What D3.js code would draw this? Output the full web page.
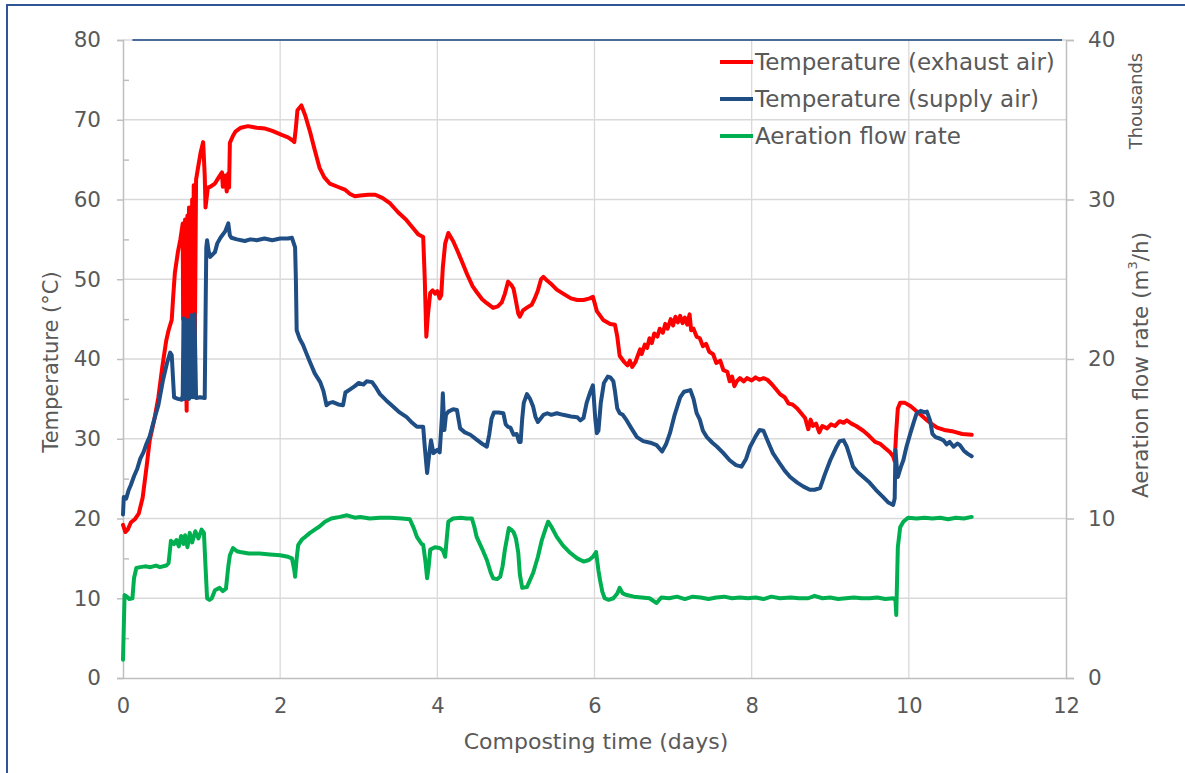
<!DOCTYPE html>
<html><head><meta charset="utf-8">
<script src="https://cdn.jsdelivr.net/npm/d3@7"></script>
<style>
html,body{margin:0;padding:0;background:#fff;}
svg{display:block;}
text{font-family:"DejaVu Sans",Verdana,sans-serif;fill:#595959;}
</style></head>
<body><svg id="c" width="1185" height="773"></svg>
<script>
// ---- data (day, value) ----
const xTicks = [0, 2, 4, 6, 8, 10, 12];
const leftTicks = [0, 10, 20, 30, 40, 50, 60, 70, 80];
const leftMinorTicks = [5, 15, 25, 35, 45, 55, 65, 75];
const rightTicks = [0, 10000, 20000, 30000, 40000];
const seriesNames = ["Temperature (exhaust air)", "Temperature (supply air)", "Aeration flow rate"];
const topLine = [[0.12, 80], [11.95, 80]];

const exhaustAir = [[0.00,19.2],[0.03,18.3],[0.06,18.6],[0.10,19.5],[0.15,19.9],[0.20,20.6],[0.25,22.6],[0.30,26.5],[0.34,29.8],[0.40,32.5],[0.45,35.2],[0.50,39],[0.55,42.3],[0.58,43.6],[0.62,44.9],[0.64,48],[0.66,50.8],[0.70,53.5],[0.73,55],[0.76,57],
[0.765,45],[0.77,56],[0.78,35],[0.79,57.5],[0.80,40],[0.81,33.5],[0.82,58],[0.83,36],[0.84,59],[0.85,38],[0.86,52],[0.87,36],[0.88,60],[0.89,38],[0.90,61.8],[0.91,37],[0.93,62.5],[0.955,64],[0.99,66],[1.02,67.2],[1.04,63],[1.05,59],[1.08,61.5],[1.11,61.6],[1.17,62],[1.22,62.8],[1.26,63.4],[1.27,61.6],[1.30,63],[1.32,61],[1.34,63.3],[1.35,61.5],[1.36,67.1],[1.40,68],[1.43,68.5],[1.50,69],[1.59,69.2],[1.70,69],[1.81,68.9],[1.90,68.6],[2.02,68.1],[2.10,67.8],[2.16,67.4],[2.18,67.2],[2.20,69],[2.22,71.2],[2.27,71.8],[2.32,70.5],[2.38,68.5],[2.44,66.2],[2.50,64],[2.56,62.8],[2.63,62],[2.73,61.6],[2.83,61.2],[2.89,60.7],[2.95,60.4],[3.02,60.5],[3.12,60.6],[3.21,60.6],[3.30,60.2],[3.40,59.5],[3.50,58.4],[3.60,57.5],[3.70,56.3],[3.76,55.6],[3.82,55.3],[3.84,50],[3.86,42.8],[3.88,45.5],[3.91,48.3],[3.94,48.6],[3.97,48.2],[4.00,48.5],[4.03,47.6],[4.05,48],[4.07,51.5],[4.10,54.5],[4.14,55.8],[4.20,54.8],[4.25,53.7],[4.31,52.3],[4.38,50.6],[4.45,49.1],[4.50,48.4],[4.57,47.5],[4.63,47],[4.71,46.4],[4.77,46.6],[4.82,47.1],[4.86,48.2],[4.90,49.7],[4.94,49.3],[4.97,48.8],[5.00,47.3],[5.03,45.7],[5.05,45.3],[5.09,46.1],[5.15,46.5],[5.20,46.8],[5.24,47.6],[5.28,48.6],[5.32,50],[5.35,50.3],[5.40,49.8],[5.46,49.3],[5.52,48.7],[5.60,48.2],[5.70,47.6],[5.78,47.4],[5.86,47.4],[5.94,47.6],[5.98,47.8],[6.03,46],[6.11,44.9],[6.20,44.4],[6.26,44.3],[6.29,42.8],[6.32,40.4],[6.38,39.6],[6.42,39.2],[6.45,39.8],[6.48,39],[6.52,39.6],[6.55,40.4],[6.58,41.2],[6.60,40.6],[6.64,41.8],[6.67,41.4],[6.70,42.6],[6.73,42],[6.76,43.2],[6.80,42.8],[6.83,43.8],[6.87,43.3],[6.90,44.4],[6.93,43.8],[6.97,45],[7.00,44.2],[7.03,45.3],[7.06,44.6],[7.09,45.4],[7.12,44.5],[7.15,45.2],[7.18,44.3],[7.21,45.6],[7.23,43.6],[7.26,43.8],[7.30,42.8],[7.34,42.6],[7.38,41.6],[7.42,41.9],[7.46,40.9],[7.51,40.6],[7.55,39.5],[7.60,39.8],[7.64,38.6],[7.69,38.4],[7.72,37.2],[7.75,37.8],[7.78,36.6],[7.81,37.2],[7.85,37.6],[7.90,37.2],[7.94,37.6],[8.00,37.3],[8.05,37.7],[8.10,37.4],[8.15,37.6],[8.20,37.4],[8.26,36.8],[8.31,36.2],[8.36,35.6],[8.42,35.2],[8.47,34.4],[8.52,34.3],[8.58,33.8],[8.63,33.2],[8.68,32.6],[8.72,31.2],[8.75,32.4],[8.78,31.6],[8.82,31.9],[8.86,30.8],[8.90,31.6],[8.96,31.3],[9.01,31.8],[9.06,31.6],[9.12,32.2],[9.17,32],[9.21,32.3],[9.27,31.9],[9.33,31.6],[9.42,31],[9.50,30.3],[9.57,29.6],[9.63,29.4],[9.70,28.8],[9.76,28.3],[9.80,27.8],[9.82,27.2],[9.84,31],[9.86,33.8],[9.89,34.5],[9.95,34.5],[10.02,34.1],[10.08,33.6],[10.14,33.1],[10.22,32.4],[10.30,31.8],[10.36,31.4],[10.45,31.1],[10.57,30.9],[10.68,30.6],[10.80,30.5]];

const supplyAir = [[0.00,20.5],[0.01,22.7],[0.04,22.5],[0.07,23.5],[0.10,24.2],[0.14,25.3],[0.18,26.2],[0.22,27.5],[0.26,28.3],[0.30,29.4],[0.34,30.3],[0.40,32.5],[0.45,34.2],[0.51,37.4],[0.56,39.5],[0.60,40.8],[0.62,40.5],[0.65,35.2],[0.70,35],[0.75,34.9],[0.76,35.5],[0.77,45.1],[0.79,35],[0.81,35.2],[0.82,44.9],[0.84,35],[0.86,35.3],[0.87,45.5],[0.89,35.2],[0.91,45.6],[0.93,35.1],[0.98,35.2],[1.04,35.1],[1.05,45],[1.06,54],[1.07,54.9],[1.09,53.5],[1.11,52.8],[1.17,53.4],[1.20,54.5],[1.24,55.2],[1.30,56],[1.34,57],[1.36,55.5],[1.38,55.2],[1.45,55],[1.55,54.8],[1.62,55],[1.70,54.9],[1.80,55.1],[1.90,54.9],[2.00,55.1],[2.10,55.1],[2.15,55.2],[2.19,54],[2.20,50],[2.21,43.6],[2.25,42.5],[2.29,41.8],[2.33,40.8],[2.38,39.6],[2.44,38.2],[2.51,37.1],[2.55,36],[2.59,34.2],[2.63,34.5],[2.67,34.6],[2.74,34.3],[2.80,34.2],[2.83,35.8],[2.89,36.2],[2.95,36.6],[3.00,37],[3.06,36.8],[3.10,37.2],[3.17,37.1],[3.22,36.4],[3.27,35.6],[3.35,34.8],[3.44,34],[3.52,33.3],[3.61,32.7],[3.68,32],[3.74,31.5],[3.82,31.5],[3.84,29],[3.87,25.7],[3.89,27.5],[3.92,29.8],[3.95,28.2],[4.00,28.6],[4.03,28.3],[4.06,33],[4.07,35.7],[4.09,31.1],[4.11,33],[4.14,33.4],[4.20,33.7],[4.25,33.6],[4.29,31.3],[4.35,30.8],[4.42,30.5],[4.50,29.9],[4.58,29.3],[4.63,29],[4.66,30.5],[4.69,32.5],[4.72,33.3],[4.78,33.3],[4.84,33.2],[4.87,31.8],[4.90,31.5],[4.93,31.4],[4.97,30.5],[5.01,30.6],[5.04,29.6],[5.06,29.6],[5.08,32.5],[5.10,34.5],[5.14,35.6],[5.18,35],[5.22,34],[5.25,32.7],[5.28,32.1],[5.32,32.6],[5.35,33],[5.40,33.2],[5.45,33],[5.52,33.2],[5.60,33],[5.70,32.8],[5.78,32.7],[5.82,32.3],[5.86,32.6],[5.90,34.5],[5.94,35.7],[5.98,36.7],[6.01,32.5],[6.03,30.7],[6.05,31],[6.08,34.5],[6.12,37],[6.17,37.8],[6.20,37.7],[6.24,37.2],[6.26,36],[6.29,33.8],[6.32,33.2],[6.36,33],[6.41,32.3],[6.47,31.3],[6.54,30.2],[6.62,29.7],[6.71,29.5],[6.79,29.2],[6.86,28.4],[6.91,29.3],[6.96,30.7],[7.02,33],[7.09,35.2],[7.14,35.9],[7.22,36.1],[7.26,35],[7.30,33.2],[7.34,32.4],[7.38,31],[7.43,30.2],[7.50,29.5],[7.56,29],[7.64,28.2],[7.72,27.3],[7.80,26.7],[7.87,26.5],[7.93,27.5],[7.98,29],[8.05,30.3],[8.10,31.1],[8.15,31],[8.20,29.8],[8.27,28.2],[8.35,27],[8.42,26],[8.49,25.2],[8.58,24.5],[8.66,24],[8.74,23.6],[8.80,23.6],[8.87,23.8],[8.93,25.5],[9.00,27.3],[9.07,28.8],[9.12,29.7],[9.17,29.8],[9.21,29],[9.25,27.8],[9.29,26.5],[9.35,25.8],[9.42,25.2],[9.50,24.5],[9.58,23.6],[9.67,22.7],[9.74,22],[9.80,21.7],[9.82,22.5],[9.83,28.6],[9.85,26],[9.86,25.2],[9.90,26.5],[9.93,27.3],[9.97,29],[10.02,30.7],[10.06,32],[10.10,33.2],[10.15,33.5],[10.20,33.3],[10.23,33.4],[10.27,32.3],[10.30,30.6],[10.34,30.2],[10.40,30],[10.44,29.8],[10.48,29.3],[10.52,29.6],[10.57,29],[10.62,29.4],[10.65,29.2],[10.70,28.5],[10.75,28.1],[10.80,27.8]];

// aeration flow rate in m3/h
const aerationFlow = [[0.00,1150],[0.02,5200],[0.05,5100],[0.08,4950],[0.12,5000],[0.14,6250],[0.17,6900],[0.22,6950],[0.28,7000],[0.35,6950],[0.42,7050],[0.47,6950],[0.55,7050],[0.58,7200],[0.61,8600],[0.65,8400],[0.68,8650],[0.71,8250],[0.74,8900],[0.77,8400],[0.79,8950],[0.82,8200],[0.85,9100],[0.88,8500],[0.92,9200],[0.96,8750],[1.00,9300],[1.03,9100],[1.05,7000],[1.07,5000],[1.10,4900],[1.13,5000],[1.17,5500],[1.23,5650],[1.27,5450],[1.31,5600],[1.34,7000],[1.36,7700],[1.40,8150],[1.45,7950],[1.49,7900],[1.60,7800],[1.74,7800],[1.87,7750],[2.00,7700],[2.10,7600],[2.15,7500],[2.18,6750],[2.19,6350],[2.21,7500],[2.23,8350],[2.28,8700],[2.32,8850],[2.38,9100],[2.44,9300],[2.50,9500],[2.57,9800],[2.65,10000],[2.76,10100],[2.85,10200],[2.95,10050],[3.02,10100],[3.14,10000],[3.27,10050],[3.40,10050],[3.55,10000],[3.65,9950],[3.70,9400],[3.74,8850],[3.80,8400],[3.82,8350],[3.85,7250],[3.87,6250],[3.89,7000],[3.91,8050],[3.97,8200],[4.03,8150],[4.07,8000],[4.10,7600],[4.12,8750],[4.14,9800],[4.20,10000],[4.30,10050],[4.37,10000],[4.44,10000],[4.47,9500],[4.50,8850],[4.57,8100],[4.63,7400],[4.68,6600],[4.71,6250],[4.76,6200],[4.80,6350],[4.83,7000],[4.86,8050],[4.91,9400],[4.94,9300],[4.97,9150],[5.00,8750],[5.03,7850],[5.05,6500],[5.08,5650],[5.14,5700],[5.22,6600],[5.28,7600],[5.33,8650],[5.38,9400],[5.41,9800],[5.45,9500],[5.52,8850],[5.60,8300],[5.69,7850],[5.78,7500],[5.86,7300],[5.93,7400],[5.98,7600],[6.02,7900],[6.05,6750],[6.07,6150],[6.10,5400],[6.13,5000],[6.18,4900],[6.24,5000],[6.29,5300],[6.32,5650],[6.36,5300],[6.41,5200],[6.50,5100],[6.60,5050],[6.70,5000],[6.79,4700],[6.85,5050],[6.95,5000],[7.05,5100],[7.15,4950],[7.25,5100],[7.35,5050],[7.45,4950],[7.55,5050],[7.65,5100],[7.75,5000],[7.85,5050],[7.95,5000],[8.05,5050],[8.15,4950],[8.25,5100],[8.36,5000],[8.50,5050],[8.60,5000],[8.72,5000],[8.80,5150],[8.90,5000],[9.00,5050],[9.10,4950],[9.20,5000],[9.30,5050],[9.40,5000],[9.50,5000],[9.60,5050],[9.70,4950],[9.80,5000],[9.83,4900],[9.84,3950],[9.86,8200],[9.89,9450],[9.93,9800],[9.99,10050],[10.10,10000],[10.20,10050],[10.30,10000],[10.40,10050],[10.50,9950],[10.60,10050],[10.70,10000],[10.80,10100]];

const colors = ["#ff0000", "#1f4e85", "#00b050"];

// ---- chart ----
const svg = d3.select("#c");
const x = d3.scaleLinear().domain([0, 12]).range([123, 1066]);
const yL = d3.scaleLinear().domain([0, 80]).range([678, 40]);
const yR = d3.scaleLinear().domain([0, 40000]).range([678, 40]);

// outer frame
svg.append("rect").attr("x", 7).attr("y", 5).attr("width", 1300).attr("height", 900)
  .attr("fill", "none").attr("stroke", "#2f5597").attr("stroke-width", 2);

// gridlines
const grid = svg.append("g");
grid.selectAll("line.h").data(leftTicks.filter(d => d > 0)).join("line")
  .attr("x1", x(0)).attr("x2", x(12)).attr("y1", d => yL(d)).attr("y2", d => yL(d))
  .attr("stroke", "#d9d9d9").attr("stroke-width", 1.3);
grid.selectAll("line.v").data(xTicks.filter(d => d > 0 && d < 12)).join("line")
  .attr("x1", d => x(d)).attr("x2", d => x(d)).attr("y1", yL(0)).attr("y2", yL(80))
  .attr("stroke", "#d9d9d9").attr("stroke-width", 1.3);

// axes
const axisColor = "#bfbfbf";
const gL = svg.append("g").attr("transform", `translate(${x(0)},0)`)
  .call(d3.axisLeft(yL).tickValues(leftTicks).tickSize(6).tickPadding(16).tickFormat(d3.format("d")));
const gLm = svg.append("g").attr("transform", `translate(${x(0)},0)`)
  .call(d3.axisRight(yL).tickValues(leftMinorTicks).tickSize(6).tickFormat(""));
gLm.select(".domain").remove();
const gR = svg.append("g").attr("transform", `translate(${x(12)},0)`)
  .call(d3.axisRight(yR).tickValues(rightTicks).tickSize(8).tickPadding(14).tickFormat(d => d / 1000));
const gB = svg.append("g").attr("transform", `translate(0,${yL(0)})`)
  .call(d3.axisBottom(x).tickValues(xTicks).tickSize(0).tickPadding(20));
[gL, gLm, gR, gB].forEach(g => {
  g.selectAll(".domain").attr("stroke", axisColor).attr("stroke-width", 1.5);
  g.selectAll(".tick line").attr("stroke", axisColor).attr("stroke-width", 1.5);
  g.selectAll(".tick text").attr("font-size", 21.5).attr("fill", "#595959")
    .attr("font-family", "DejaVu Sans, Verdana, sans-serif");
});
gB.selectAll(".tick text").attr("font-size", 21);

// axis titles
svg.append("text").attr("transform", `translate(51,362) rotate(-90)`)
  .attr("text-anchor", "middle").attr("dominant-baseline", "central").attr("font-size", 21)
  .text("Temperature (°C)");
svg.append("text").attr("x", 596).attr("y", 741).attr("text-anchor", "middle")
  .attr("dominant-baseline", "central").attr("font-size", 22).text("Composting time (days)");
const rt = svg.append("text").attr("transform", `translate(1140,365) rotate(-90)`)
  .attr("text-anchor", "middle").attr("dominant-baseline", "central").attr("font-size", 21.5);
rt.append("tspan").text("Aeration flow rate (m");
rt.append("tspan").attr("font-size", 13).attr("dy", -8).text("3");
rt.append("tspan").attr("dy", 8).text("/h)");
svg.append("text").attr("transform", `translate(1135,101) rotate(-90)`)
  .attr("text-anchor", "middle").attr("dominant-baseline", "central").attr("font-size", 17.8)
  .text("Thousands");

// lines
const lineL = d3.line().x(d => x(d[0])).y(d => yL(d[1]));
const lineR = d3.line().x(d => x(d[0])).y(d => yR(d[1]));
const plot = svg.append("g");
plot.append("path").datum(topLine).attr("d", lineL).attr("fill", "none")
  .attr("stroke", "#4a6c9b").attr("stroke-width", 2);
plot.append("path").datum(exhaustAir).attr("d", lineL).attr("fill", "none")
  .attr("stroke", colors[0]).attr("stroke-width", 4).attr("stroke-linejoin", "round").attr("stroke-linecap", "round");
plot.append("path").datum(supplyAir).attr("d", lineL).attr("fill", "none")
  .attr("stroke", colors[1]).attr("stroke-width", 4).attr("stroke-linejoin", "round").attr("stroke-linecap", "round");
plot.append("path").datum(aerationFlow).attr("d", lineR).attr("fill", "none")
  .attr("stroke", colors[2]).attr("stroke-width", 4).attr("stroke-linejoin", "round").attr("stroke-linecap", "round");

// legend
const leg = svg.append("g");
seriesNames.forEach((name, i) => {
  const yy = 62 + i * 37;
  leg.append("line").attr("x1", 720).attr("x2", 753).attr("y1", yy).attr("y2", yy)
    .attr("stroke", colors[i]).attr("stroke-width", 4);
  leg.append("text").attr("x", 755).attr("y", yy).attr("dominant-baseline", "central")
    .attr("font-size", 23).text(name);
});
</script></body></html>
